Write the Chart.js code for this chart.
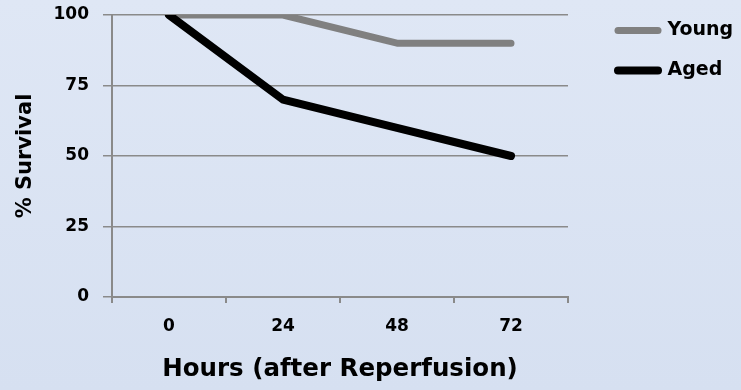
<!DOCTYPE html>
<html>
<head>
<meta charset="utf-8">
<script src="https://cdn.jsdelivr.net/npm/chart.js@4"></script>
<style>
  html, body { margin: 0; padding: 0; }
  body { width: 741px; height: 390px; background: linear-gradient(#dfe7f5, #d6e0f1); }
  #wrap { width: 741px; height: 390px; position: relative; }
</style>
</head>
<body>
<div id="wrap"><canvas id="c"></canvas></div>
<script>
const hours = ['0', '24', '48', '72'];
const youngSurvival = [100, 100, 90, 90];
const agedSurvival = [100, 70, 60, 50];
const yTicks = [0, 25, 50, 75, 100];

const FONT = 'DejaVu Sans';
const GRID = '#8a8a8a';

new Chart(document.getElementById('c'), {
  type: 'line',
  data: {
    labels: hours,
    datasets: [
      {
        label: 'Young', data: youngSurvival, order: 2,
        borderColor: '#808080', backgroundColor: '#808080', borderWidth: 7,
        pointRadius: 0, pointBorderWidth: 7, pointBorderColor: '#808080',
        borderCapStyle: 'round', borderJoinStyle: 'round', tension: 0
      },
      {
        label: 'Aged', data: agedSurvival, order: 1,
        borderColor: '#000000', backgroundColor: '#000000', borderWidth: 8,
        pointRadius: 0, pointBorderWidth: 8, pointBorderColor: '#000000',
        borderCapStyle: 'round', borderJoinStyle: 'round', tension: 0
      }
    ]
  },
  options: {
    responsive: true, maintainAspectRatio: false, animation: false,
    layout: { padding: { left: 0, right: 0, top: 0, bottom: 0 } },
    plugins: {
      tooltip: { enabled: false },
      legend: {
        position: 'right', align: 'start', maxWidth: 144,
        labels: {
          usePointStyle: true, pointStyle: 'line', pointStyleWidth: 40,
          padding: 21, color: '#000',
          font: { family: FONT, size: 19, weight: 'bold' },
          sort: (a, b) => a.datasetIndex - b.datasetIndex,
          generateLabels: (chart) => Chart.defaults.plugins.legend.labels.generateLabels(chart)
            .map(l => Object.assign(l, { lineCap: 'round' }))
        }
      }
    },
    scales: {
      x: {
        type: 'category', offset: true,
        grid: { display: true, drawOnChartArea: false, drawTicks: true, tickLength: 6, color: GRID, lineWidth: 2, offset: true },
        border: { display: true, color: GRID, width: 2 },
        ticks: { color: '#000', padding: 13, font: { family: FONT, size: 17, weight: 'bold' }, maxRotation: 0 },
        title: { display: true, text: 'Hours (after Reperfusion)', color: '#000', padding: { top: 0, bottom: 6 }, font: { family: FONT, size: 24.5, weight: 'bold' } },
        afterFit: s => { s.height = 93; }
      },
      y: {
        min: 0, max: 100,
        afterBuildTicks: s => { s.ticks = yTicks.map(v => ({ value: v })); },
        grid: { color: GRID, lineWidth: 1.5, tickLength: 9, drawTicks: true },
        border: { display: true, color: GRID, width: 2 },
        ticks: { color: '#000', padding: 14, font: { family: FONT, size: 17, weight: 'bold', lineHeight: 2 / 17 } },
        title: { display: true, text: '% Survival', color: '#000', padding: { top: 13, bottom: 0 }, font: { family: FONT, size: 21, weight: 'bold' } },
        afterFit: s => { s.width = 112; }
      },
      yPad: {
        type: 'linear', position: 'right', display: true,
        grid: { display: false, drawTicks: false }, border: { display: false },
        ticks: { display: false },
        afterFit: s => { s.width = 29; }
      }
    }
  }
});
</script>
</body>
</html>
